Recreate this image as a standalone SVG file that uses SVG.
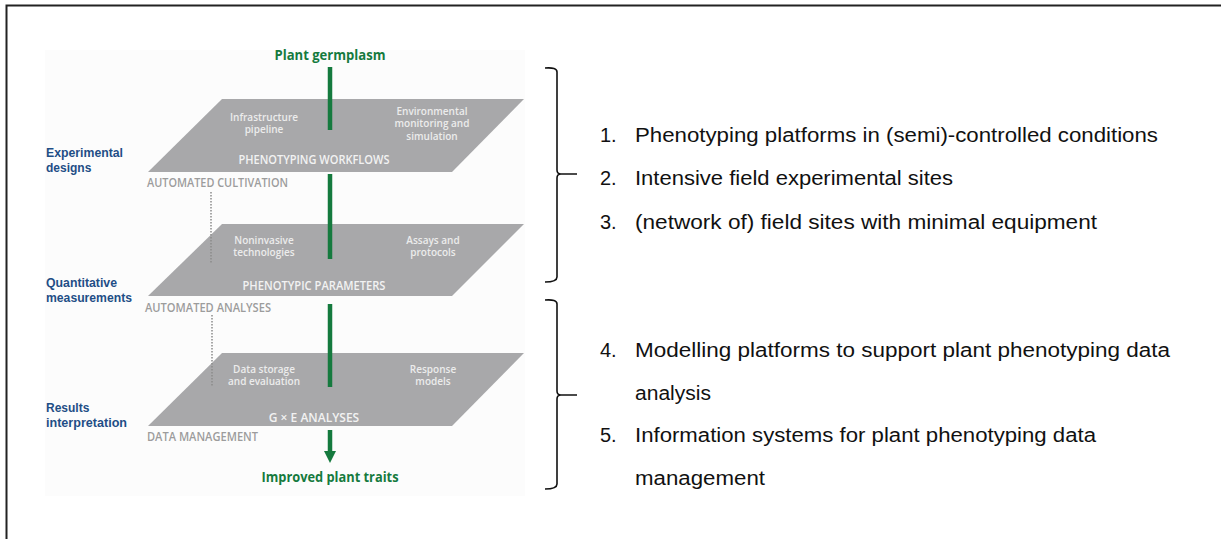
<svg xmlns="http://www.w3.org/2000/svg" width="1221" height="539" viewBox="0 0 1221 539">
<defs>
<style>
.para{fill:#a8a8aa}
.ptxt{font-family:"Open Sans","Liberation Sans",sans-serif;font-size:10px;font-weight:600;fill:#ececec;text-anchor:middle}
.ptitle{font-family:"Open Sans","Liberation Sans",sans-serif;font-size:12px;font-weight:600;fill:#f2f2f2;text-anchor:middle}
.auto{font-family:"Open Sans","Liberation Sans",sans-serif;font-size:12px;font-weight:600;fill:#9c9c9c}
.blue{font-family:"Liberation Sans",Arial,sans-serif;font-size:12px;font-weight:700;fill:#1f4e86}
.green{font-family:"Open Sans","Liberation Sans",sans-serif;font-size:13.5px;font-weight:700;fill:#157a3e;text-anchor:middle}
.gline{stroke:#157a3e;stroke-width:4.5;fill:none}
.dot{stroke:#8a8a8a;stroke-width:1.5;stroke-dasharray:1.5 1.5;fill:none}
.brace{stroke:#111;stroke-width:1.6;fill:none}
.list{font-family:"Liberation Sans",Arial,sans-serif;font-size:20px;fill:#111}
</style>
<marker id="ah" viewBox="0 0 12 12" refX="1" refY="6" markerWidth="12" markerHeight="12" markerUnits="userSpaceOnUse" orient="auto">
<path d="M0,0 L12,6 L0,12 Z" fill="#157a3e"/>
</marker>
</defs>
<rect x="0" y="0" width="1221" height="539" fill="#ffffff"/>
<rect x="6.5" y="5.5" width="1240" height="560" fill="none" stroke="#222" stroke-width="2"/>
<rect id="figure-bg" x="45" y="50" width="480" height="446" fill="#fcfcfc"/>

<g id="layer1">
<polygon class="para" points="222,99 524,99 452,172 148,172"/>
<text class="ptxt" x="264" y="121">Infrastructure</text>
<text class="ptxt" x="264" y="133">pipeline</text>
<text class="ptxt" x="432" y="115">Environmental</text>
<text class="ptxt" x="432" y="127">monitoring and</text>
<text class="ptxt" x="432" y="140">simulation</text>
<text class="ptitle" x="314" y="164" textLength="151" lengthAdjust="spacingAndGlyphs">PHENOTYPING WORKFLOWS</text>
</g>
<g id="layer2">
<polygon class="para" points="222,224 524,224 452,296 148,296"/>
<text class="ptxt" x="264" y="244">Noninvasive</text>
<text class="ptxt" x="264" y="256">technologies</text>
<text class="ptxt" x="433" y="244">Assays and</text>
<text class="ptxt" x="433" y="256">protocols</text>
<text class="ptitle" x="314" y="290" textLength="143" lengthAdjust="spacingAndGlyphs">PHENOTYPIC PARAMETERS</text>
</g>
<g id="layer3">
<polygon class="para" points="222,353 524,353 452,426 148,426"/>
<text class="ptxt" x="264" y="373">Data storage</text>
<text class="ptxt" x="264" y="385">and evaluation</text>
<text class="ptxt" x="433" y="373">Response</text>
<text class="ptxt" x="433" y="385">models</text>
<text class="ptitle" x="314" y="422">G × E ANALYSES</text>
</g>

<g id="side-labels">
<text class="blue" x="46" y="157" textLength="77" lengthAdjust="spacingAndGlyphs">Experimental</text>
<text class="blue" x="46" y="171.5">designs</text>
<text class="blue" x="46" y="287" textLength="71" lengthAdjust="spacingAndGlyphs">Quantitative</text>
<text class="blue" x="46" y="301.5" textLength="86" lengthAdjust="spacingAndGlyphs">measurements</text>
<text class="blue" x="46" y="412">Results</text>
<text class="blue" x="46" y="427" textLength="81" lengthAdjust="spacingAndGlyphs">interpretation</text>
<text class="auto" x="147" y="187" textLength="141" lengthAdjust="spacingAndGlyphs">AUTOMATED CULTIVATION</text>
<text class="auto" x="145" y="312" textLength="126" lengthAdjust="spacingAndGlyphs">AUTOMATED ANALYSES</text>
<text class="auto" x="147" y="441" textLength="111" lengthAdjust="spacingAndGlyphs">DATA MANAGEMENT</text>
</g>

<g id="io-labels">
<text class="green" x="330" y="60" textLength="111" lengthAdjust="spacingAndGlyphs">Plant germplasm</text>
<text class="green" x="330" y="482" textLength="137" lengthAdjust="spacingAndGlyphs">Improved plant traits</text>
</g>

<g id="connectors">
<line class="gline" x1="330" y1="67" x2="330" y2="130"/>
<line class="gline" x1="330" y1="174" x2="330" y2="259"/>
<line class="gline" x1="330" y1="304" x2="330" y2="387"/>
<line class="gline" x1="330" y1="430" x2="330" y2="452" marker-end="url(#ah)"/>
<line class="dot" x1="211" y1="192" x2="211" y2="263"/>
<line class="dot" x1="212" y1="315" x2="212" y2="387"/>
<path class="brace" d="M545,68 Q557,67 557,72 L557,170 Q557,174 561,174 L577,174 M561,174 Q557,174 557,178 L557,277 Q557,282 545,282"/>
<path class="brace" d="M545,300 Q557,299 557,304 L557,391 Q557,395 561,395 L577,395 M561,395 Q557,395 557,399 L557,484 Q557,489 545,489"/>
</g>

<g id="list">
<text class="list" x="600" y="142">1.</text>
<text class="list" x="635" y="142" textLength="523" lengthAdjust="spacingAndGlyphs">Phenotyping platforms in (semi)-controlled conditions</text>
<text class="list" x="600" y="185">2.</text>
<text class="list" x="635" y="185" textLength="318" lengthAdjust="spacingAndGlyphs">Intensive field experimental sites</text>
<text class="list" x="600" y="229">3.</text>
<text class="list" x="635" y="229" textLength="462" lengthAdjust="spacingAndGlyphs">(network of) field sites with minimal equipment</text>
<text class="list" x="600" y="357">4.</text>
<text class="list" x="635" y="357" textLength="535" lengthAdjust="spacingAndGlyphs">Modelling platforms to support plant phenotyping data</text>
<text class="list" x="635" y="400" textLength="76" lengthAdjust="spacingAndGlyphs">analysis</text>
<text class="list" x="600" y="442">5.</text>
<text class="list" x="635" y="442" textLength="461" lengthAdjust="spacingAndGlyphs">Information systems for plant phenotyping data</text>
<text class="list" x="635" y="485" textLength="130" lengthAdjust="spacingAndGlyphs">management</text>
</g>
</svg>
